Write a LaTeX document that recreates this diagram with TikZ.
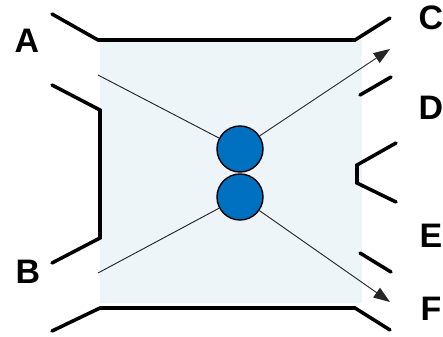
\documentclass[tikz,border=0pt]{standalone}
\usepackage{fontspec}
\setmainfont{Liberation Sans}
\usepackage{xcolor}
\usetikzlibrary{arrows.meta}

\definecolor{panelblue}{HTML}{EEF5F9}
\definecolor{ballblue}{HTML}{0070C0}

\tikzset{
  wall/.style={line width=3pt, line cap=round},
  ray/.style={line width=0.8pt, draw=black!85},
  ball/.style={circle, draw, fill=ballblue, line width=1.2pt, minimum size=1.38cm, inner sep=0pt},
  port/.style={font=\fontsize{29}{34}\selectfont\bfseries, inner sep=0pt}
}

\begin{document}
\begin{tikzpicture}[x=0.03cm, y=-0.03cm, >={Triangle[length=14pt, width=10pt]}]
    \useasboundingbox (0,0) rectangle (443,337);
    \fill[panelblue] (100,40) rectangle (362,303);

    % walls
    \draw[wall] (52,14) -- (98,40) -- (355,40) -- (390,18);
    \draw[wall] (52,85) -- (100,110) -- (100,238) -- (52,263);
    \draw[wall] (52,331) -- (100,308) -- (355,308) -- (390,330);
    \draw[wall] (360,95) -- (391,77);
    \draw[wall] (396,143) -- (357,165) -- (357,183) -- (396,202);
    \draw[wall] (360,253) -- (391,272);

    % balls
    \node[ball] (upper) at (240,149) {};
    \node[ball] (lower) at (240,197) {};

    \coordinate (inA) at (98,75);
    \coordinate (inB) at (98,273);
    \coordinate (outC) at (390,49);
    \coordinate (outF) at (390,302);

    \draw[ray] (inA) -- (upper);
    \draw[ray, ->] (upper) -- (outC);
    \draw[ray] (inB) -- (lower);
    \draw[ray, ->] (lower) -- (outF);

    % labels
    \node[port] (labA) at (27,41) {A};
    \node[port] (labB) at (28,272) {B};
    \node[port] (labC) at (431,18) {C};
    \node[port] (labD) at (431,108) {D};
    \node[port] (labE) at (431,236) {E};
    \node[port] (labF) at (431,309) {F};
\end{tikzpicture}
\end{document}
